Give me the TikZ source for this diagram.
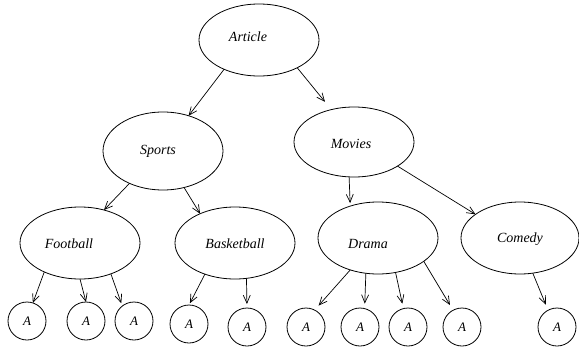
\documentclass[tikz,border=0pt]{standalone}
\usepackage{fontspec}
\setmainfont{Liberation Serif}
\usetikzlibrary{shapes.geometric,arrows.meta}
\tikzset{
  cls/.style={draw,ellipse,line width=0.8pt,inner sep=0pt,outer sep=0pt,
    minimum width=120pt,minimum height=72pt,font=\fontsize{14}{16}\selectfont\itshape},
  leaf/.style={draw,circle,line width=0.8pt,inner sep=0pt,outer sep=0pt,
    minimum size=38pt,font=\fontsize{13}{15}\selectfont\itshape},
  arr/.style={line width=0.7pt,-{Straight Barb[length=8pt,width=7pt,line width=0.7pt]}}
}
\newcommand\rbx[2]{\raisebox{#1}[\height][\depth]{#2}}
\begin{document}
\begin{tikzpicture}[x=1pt,y=-1pt]
\useasboundingbox (0,0) rectangle (579,351);
\node[cls] (art) at (259,40) {\rbx{3pt}{Article}\hspace*{22pt}};
\node[cls,minimum height=78pt] (spo) at (163,151) {Sports\hspace*{10pt}};
\node[cls,minimum height=70pt] (mov) at (354,142) {\rbx{-2pt}{Movies}\hspace*{6pt}};
\node[cls] (foo) at (80,243) {\rbx{-1pt}{Football}\hspace*{22pt}};
\node[cls] (bas) at (235,243) {\rbx{-1pt}{Basketball}};
\node[cls] (dra) at (378,238) {\rbx{-6pt}{Drama}\hspace*{20pt}};
\node[cls,minimum width=118pt] (com) at (520,238) {\rbx{-1pt}{Comedy}};
\node[leaf] (a1) at (27,321) {A};
\node[leaf] (a2) at (86,321) {A};
\node[leaf] (a3) at (134,321) {A};
\node[leaf] (a4) at (189,324) {A};
\node[leaf] (a5) at (247,327) {A};
\node[leaf] (a6) at (306,327) {A};
\node[leaf] (a7) at (360,327) {A};
\node[leaf] (a8) at (408,327) {A};
\node[leaf] (a9) at (462,327) {A};
\node[leaf] (a10) at (557,327) {A};
\draw[arr] (art.220) -- (spo.54);
\draw[arr,shorten >=10pt] (art.324) -- (mov.125);
\draw[arr] (spo.224) -- (foo.54);
\draw[arr] (spo.300) -- (bas.140);
\draw[arr,shorten >=3pt] (mov.262) -- (dra.131);
\draw[arr] (mov.331) -- (com.152);
\draw[arr] (foo.219) -- (a1.72);
\draw[arr] (foo.270) -- (a2.north);
\draw[arr,shorten >=3pt] (foo.315) -- (a3.128);
\draw[arr,shorten >=2pt] (bas.226) -- (a4.north);
\draw[arr,shorten >=4pt] (bas.288) -- (a5.north);
\draw[arr,shorten >=6pt] (dra.229) -- (a6.63);
\draw[arr,shorten >=5pt] (dra.251) -- (a7.76);
\draw[arr,shorten >=5pt] (dra.297) -- (a8.104);
\draw[arr,shorten >=6pt] (dra.333) -- (a9.118);
\draw[arr,shorten >=6pt] (com.290) -- (a10.118);
\end{tikzpicture}
\end{document}
